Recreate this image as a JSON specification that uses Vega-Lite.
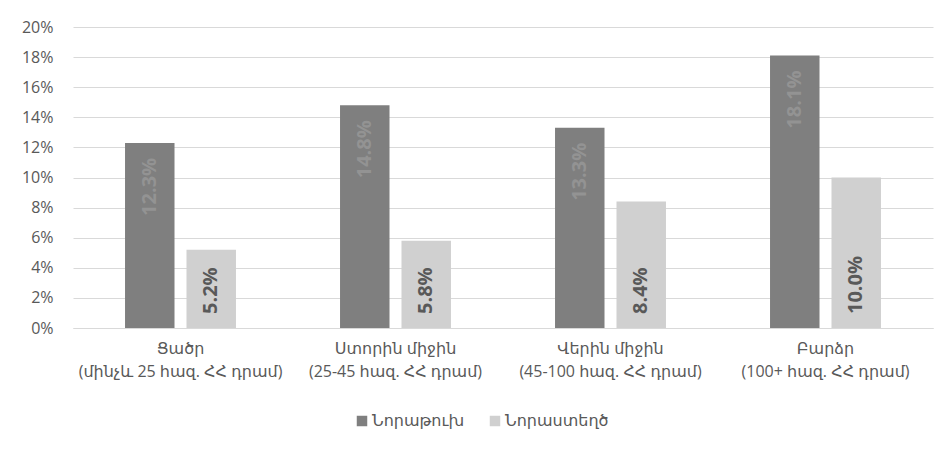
{
  "$schema": "https://vega.github.io/schema/vega-lite/v6.json",
  "width": 860,
  "height": 301,
  "autosize": {"type": "none"},
  "padding": {"left": 73, "top": 27, "right": 19, "bottom": 123},
  "background": "#ffffff",
  "config": {
    "view": {"stroke": null},
    "font": "Open Sans, DejaVu Sans",
    "axis": {"labelFont": "Open Sans, DejaVu Sans", "labelColor": "#595959"},
    "legend": {"labelFont": "Open Sans, DejaVu Sans", "labelColor": "#595959"}
  },
  "data": {
    "values": [
      {"group": "Ցածր\n(մինչև 25 հազ. ՀՀ դրամ)", "kind": "Նորաթուխ", "value": 0.123},
      {"group": "Ցածր\n(մինչև 25 հազ. ՀՀ դրամ)", "kind": "Նորաստեղծ", "value": 0.052},
      {"group": "Ստորին միջին\n(25-45 հազ. ՀՀ դրամ)", "kind": "Նորաթուխ", "value": 0.148},
      {"group": "Ստորին միջին\n(25-45 հազ. ՀՀ դրամ)", "kind": "Նորաստեղծ", "value": 0.058},
      {"group": "Վերին միջին\n(45-100 հազ. ՀՀ դրամ)", "kind": "Նորաթուխ", "value": 0.133},
      {"group": "Վերին միջին\n(45-100 հազ. ՀՀ դրամ)", "kind": "Նորաստեղծ", "value": 0.084},
      {"group": "Բարձր\n(100+ հազ. ՀՀ դրամ)", "kind": "Նորաթուխ", "value": 0.181},
      {"group": "Բարձր\n(100+ հազ. ՀՀ դրամ)", "kind": "Նորաստեղծ", "value": 0.100}
    ]
  },
  "encoding": {
    "x": {
      "field": "group",
      "type": "nominal",
      "sort": null,
      "scale": {"paddingInner": 0.484, "paddingOuter": 0.242},
      "axis": {
        "title": null,
        "labelAngle": 0,
        "labelExpr": "split(datum.label, '\\n')",
        "labelFontSize": 16,
        "labelLineHeight": 23,
        "labelPadding": 12,
        "labelLimit": 300,
        "ticks": false,
        "domainColor": "#d9d9d9",
        "domainWidth": 1
      }
    },
    "xOffset": {
      "field": "kind",
      "type": "nominal",
      "sort": ["Նորաթուխ", "Նորաստեղծ"],
      "scale": {"paddingInner": 0.195}
    },
    "y": {
      "field": "value",
      "type": "quantitative",
      "scale": {"domain": [0, 0.2], "nice": false, "zero": true},
      "axis": {
        "title": null,
        "format": ".0%",
        "tickCount": 10,
        "labelOverlap": false,
        "labelFontSize": 16,
        "labelPadding": 20,
        "ticks": false,
        "domain": false,
        "gridColor": "#d9d9d9",
        "gridWidth": 1
      }
    }
  },
  "layer": [
    {
      "mark": {"type": "bar"},
      "encoding": {
        "color": {
          "field": "kind",
          "type": "nominal",
          "sort": ["Նորաթուխ", "Նորաստեղծ"],
          "scale": {"domain": ["Նորաթուխ", "Նորաստեղծ"], "range": ["#7f7f7f", "#d0d0d0"]},
          "legend": {
            "title": null,
            "orient": "none",
            "direction": "horizontal",
            "legendX": 281,
            "legendY": 386,
            "symbolType": "square",
            "symbolSize": 110,
            "symbolStrokeWidth": 0,
            "labelFontSize": 16,
            "labelOffset": 2,
            "columnPadding": 22
          }
        }
      }
    },
    {
      "transform": [{"filter": "datum.kind === 'Նորաթուխ'"}],
      "mark": {
        "type": "text",
        "angle": 270,
        "align": "right",
        "baseline": "middle",
        "dx": -15,
        "fontSize": 20,
        "fontWeight": "bold",
        "color": "#939393"
      },
      "encoding": {
        "text": {"field": "value", "type": "quantitative", "format": ".1%"}
      }
    },
    {
      "transform": [{"filter": "datum.kind === 'Նորաստեղծ'"}],
      "mark": {
        "type": "text",
        "angle": 270,
        "align": "left",
        "baseline": "middle",
        "dx": 14,
        "fontSize": 20,
        "fontWeight": "bold",
        "color": "#595959"
      },
      "encoding": {
        "y": {"datum": 0, "type": "quantitative"},
        "text": {"field": "value", "type": "quantitative", "format": ".1%"}
      }
    }
  ]
}
